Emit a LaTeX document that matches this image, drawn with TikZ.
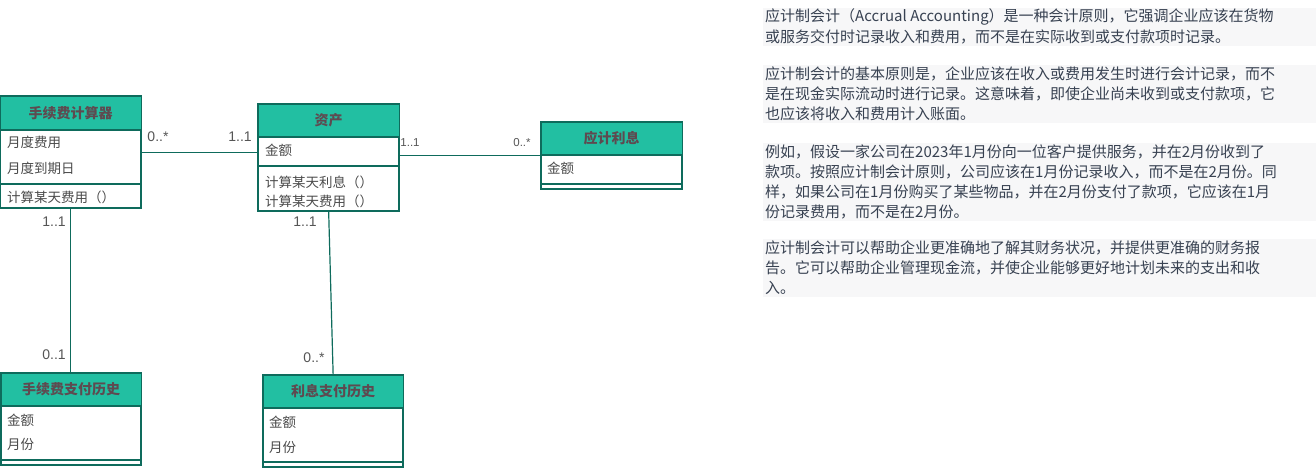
\documentclass[tikz,border=0pt]{standalone}
\usepackage{fontspec}
\setmainfont{Noto Sans CJK SC}
\newfontfamily\multfont{Liberation Sans}
\usetikzlibrary{calc}
\definecolor{hdrfill}{HTML}{22BFA2}
\definecolor{umlline}{HTML}{0E6B5C}
\definecolor{hdrtext}{HTML}{5E4A50}
\definecolor{bodytext}{HTML}{4A4A4A}
\definecolor{multtext}{HTML}{555555}
\definecolor{notetext}{HTML}{374151}
\definecolor{notebg}{HTML}{F7F7F8}
\tikzset{
  umlbox/.style={draw=umlline, line width=1.3pt, inner sep=0pt, anchor=north west},
  hdrlabel/.style={text=hdrtext, font=\fontsize{14}{16}\selectfont\bfseries, inner sep=0pt},
  attr/.style={text=bodytext, font=\fontsize{13.5}{15}\selectfont, anchor=west, inner sep=0pt},
  sepline/.style={draw=umlline, line width=1.3pt},
  assoc/.style={draw=umlline, line width=1.2pt},
  mult/.style={text=multtext, font=\multfont\fontsize{14}{16}\selectfont, inner sep=0pt},
  smallmult/.style={text=multtext, font=\multfont\fontsize{11.5}{13}\selectfont, inner sep=0pt},
  noteline/.style={text=notetext, font=\fontsize{15}{18}\selectfont, anchor=west, inner sep=0pt},
  notebox/.style={fill=notebg, draw=none},
}
% one UML class: name, x, y, width, height, header height, title
% (the picture's y axis points down, so positive offsets go down the page)
\newcommand{\umlclass}[7]{%
  \node[umlbox, minimum width=#4pt, minimum height=#5pt] (#1) at (#2,#3) {};
  \fill[hdrfill] (#1.north west) rectangle ($(#1.north east)+(0,#6)$);
  \draw[sepline] ($(#1.north west)+(0,#6)$) -- ($(#1.north east)+(0,#6)$);
  \draw[umlline, line width=1.3pt] (#1.north west) rectangle (#1.south east);
  \node[hdrlabel] (#1-title) at ($(#1.north)+(0,#6/2)$) {#7};
}
\begin{document}
\begin{tikzpicture}[x=1pt, y=-1pt]
\useasboundingbox (0,0) rectangle (1316,467);

% ---- class boxes ----
\umlclass{calc}{0}{96}{140}{111}{34}{手续费计算器}
\draw[sepline] ($(calc.north west)+(0,88)$) -- ($(calc.north east)+(0,88)$);
\node[attr] (calc-a1) at (7,142) {月度费用};
\node[attr] (calc-a2) at (7,168) {月度到期日};
\node[attr] (calc-m1) at (7,197) {计算某天费用（）};

\umlclass{asset}{258}{104}{140}{106}{33}{资产}
\draw[sepline] ($(asset.north west)+(0,62)$) -- ($(asset.north east)+(0,62)$);
\node[attr] (asset-a1) at (265,150) {金额};
\node[attr] (asset-m1) at (265,182) {计算某天利息（）};
\node[attr] (asset-m2) at (265,201) {计算某天费用（）};

\umlclass{rate}{541}{122}{140}{66}{33}{应计利息}
\draw[sepline] ($(rate.north west)+(0,62)$) -- ($(rate.north east)+(0,62)$);
\node[attr] (rate-a1) at (547,168) {金额};

\umlclass{feehist}{1}{373}{139}{91}{33}{手续费支付历史}
\draw[sepline] ($(feehist.north west)+(0,87)$) -- ($(feehist.north east)+(0,87)$);
\node[attr] (feehist-a1) at (7,420) {金额};
\node[attr] (feehist-a2) at (7,444) {月份};

\umlclass{inthist}{263}{375}{139}{91}{33}{利息支付历史}
\draw[sepline] ($(inthist.north west)+(0,87)$) -- ($(inthist.north east)+(0,87)$);
\node[attr] (inthist-a1) at (269,422) {金额};
\node[attr] (inthist-a2) at (269,447) {月份};

% ---- associations ----
\draw[assoc] (calc.east) -- (calc.east -| asset.west);
\draw[assoc] (asset.east |- rate.west) -- (rate.west);
\draw[assoc] (calc.south) -- (calc.south |- feehist.north);
\draw[assoc] (asset.south) -- (inthist.north);

% ---- multiplicities ----
\node[mult] (m1) at (158,137) {0..*};
\node[mult] (m2) at (240,137) {1..1};
\node[smallmult] (m3) at (410,143) {1..1};
\node[smallmult] (m4) at (522,143) {0..*};
\node[mult] (m5) at (54,222) {1..1};
\node[mult] (m6) at (54,355) {0..1};
\node[mult] (m7) at (305,222) {1..1};
\node[mult] (m8) at (314,358) {0..*};

% ---- explanatory notes ----
\fill[notebox] (763,8) rectangle (1316,46);
\fill[notebox] (763,65) rectangle (1316,123);
\fill[notebox] (763,143) rectangle (1316,221);
\fill[notebox] (763,239) rectangle (1316,297);

\node[noteline] (p1l1) at (765,17) {应计制会计（Accrual Accounting）是一种会计原则，它强调企业应该在货物};
\node[noteline] (p1l2) at (765,37) {或服务交付时记录收入和费用，而不是在实际收到或支付款项时记录。};

\node[noteline] (p2l1) at (765,74) {应计制会计的基本原则是，企业应该在收入或费用发生时进行会计记录，而不};
\node[noteline] (p2l2) at (765,94) {是在现金实际流动时进行记录。这意味着，即使企业尚未收到或支付款项，它};
\node[noteline] (p2l3) at (765,114) {也应该将收入和费用计入账面。};

\node[noteline] (p3l1) at (765,152) {例如，假设一家公司在2023年1月份向一位客户提供服务，并在2月份收到了};
\node[noteline] (p3l2) at (765,172) {款项。按照应计制会计原则，公司应该在1月份记录收入，而不是在2月份。同};
\node[noteline] (p3l3) at (765,192) {样，如果公司在1月份购买了某些物品，并在2月份支付了款项，它应该在1月};
\node[noteline] (p3l4) at (765,212) {份记录费用，而不是在2月份。};

\node[noteline] (p4l1) at (765,248) {应计制会计可以帮助企业更准确地了解其财务状况，并提供更准确的财务报};
\node[noteline] (p4l2) at (765,268) {告。它可以帮助企业管理现金流，并使企业能够更好地计划未来的支出和收};
\node[noteline] (p4l3) at (765,288) {入。};
\end{tikzpicture}
\end{document}
